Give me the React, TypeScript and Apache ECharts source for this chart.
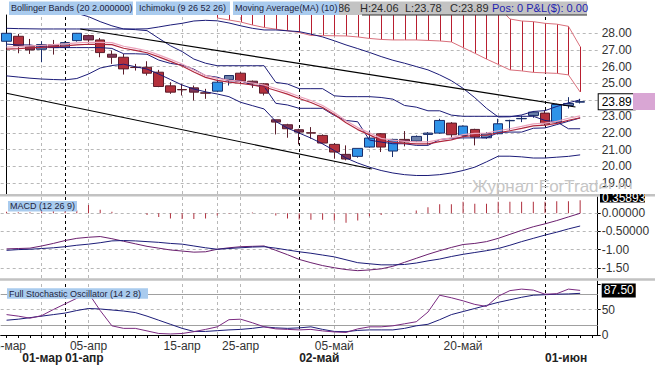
import { useEffect, useRef } from 'react';
import * as echarts from 'echarts';

const dates = ['25-мар','28-мар','29-мар','30-мар','31-мар','01-апр','04-апр','05-апр','06-апр','07-апр','08-апр','11-апр','12-апр','13-апр','14-апр','15-апр','18-апр','19-апр','20-апр','21-апр','25-апр','26-апр','27-апр','28-апр','29-апр','02-май','03-май','04-май','05-май','06-май','09-май','10-май','11-май','12-май','13-май','16-май','17-май','18-май','19-май','20-май','23-май','24-май','25-май','26-май','27-май','31-май','01-июн','02-июн','03-июн','06-июн','07-июн'];

const opens = [27.52,27.82,27.22,27.04,27.32,27.16,27.56,27.86,27.60,26.74,26.56,25.96,25.96,25.66,24.84,24.62,24.72,24.42,24.52,25.22,25.60,25.12,24.96,22.80,22.50,22.20,22.02,21.86,21.32,20.72,20.60,21.16,21.96,20.92,21.62,21.52,21.92,22.00,22.60,21.86,22.22,21.72,21.96,22.74,22.86,23.06,23.20,22.66,23.66,23.86];
const closes = [28.00,27.26,27.00,27.32,27.14,27.44,28.00,27.60,26.84,26.56,25.86,25.94,25.60,24.80,24.46,24.60,24.46,24.40,25.06,25.46,25.12,24.96,24.40,22.66,22.26,22.06,22.00,21.40,20.86,20.44,21.08,21.70,21.16,21.62,21.46,21.80,22.00,22.76,21.90,22.42,21.76,21.96,22.56,22.76,22.88,23.26,22.56,23.72,23.78,23.89];
const highs = [28.02,27.96,27.66,27.52,27.60,27.50,28.02,27.92,27.72,26.96,26.76,26.16,26.32,25.80,25.06,24.96,24.86,24.66,25.20,25.46,25.66,25.16,25.00,22.80,22.56,22.26,22.36,21.92,21.40,21.26,21.08,22.16,22.00,21.66,22.12,21.86,22.06,22.86,22.66,22.46,22.26,22.06,22.86,22.80,23.06,23.32,23.36,23.76,24.16,24.06];
const lows = [27.16,26.80,26.76,26.26,26.72,27.10,27.50,27.40,26.56,26.16,25.52,25.76,25.46,24.76,24.36,24.26,23.96,24.06,24.46,24.86,24.96,24.72,24.26,21.92,21.72,21.32,21.66,21.36,20.46,20.36,20.52,21.12,20.86,20.56,21.20,21.46,21.30,21.96,21.72,21.80,21.26,21.66,21.92,22.16,22.66,22.92,22.46,22.56,23.48,23.78];

const bbUpper = [28.30,28.28,28.27,28.26,28.26,28.26,28.26,28.26,28.26,28.26,28.26,28.26,28.27,28.38,28.50,28.60,28.74,28.78,28.75,28.62,28.45,28.30,28.20,28.20,28.15,28.10,27.95,27.78,27.55,27.30,27.08,26.85,26.60,26.38,26.20,26.00,25.80,25.50,25.15,24.69,24.13,23.49,22.97,22.98,23.09,23.30,23.35,23.60,23.82,24.00];
const bbLower = [25.44,25.37,25.30,25.25,25.22,25.20,25.28,25.55,25.91,26.06,26.14,25.99,25.85,25.55,25.22,24.89,24.65,24.48,24.35,24.19,23.85,23.65,23.45,22.70,22.30,22.00,21.70,21.35,20.95,20.50,20.20,19.95,19.75,19.60,19.50,19.45,19.45,19.50,19.60,19.75,19.95,20.27,20.61,20.61,20.57,20.50,20.50,20.55,20.60,20.69];
const tenkan = [27.35,27.30,27.30,27.20,27.14,27.14,27.14,27.14,27.14,27.09,26.77,26.77,26.74,26.39,26.19,26.09,25.84,25.46,25.36,25.14,25.14,24.88,24.81,23.79,23.69,23.49,23.49,23.49,23.06,22.76,22.68,21.58,21.46,21.36,21.36,21.26,21.26,21.61,21.69,21.71,21.71,21.71,22.03,22.06,22.06,22.29,22.31,22.51,22.71,22.91];
const kijun = [29.60,29.50,29.40,29.35,29.30,29.25,29.20,29.00,28.70,28.45,28.26,28.22,28.16,27.70,27.25,26.90,26.45,26.20,26.05,26.05,26.05,26.05,26.05,25.05,24.95,24.67,24.67,24.67,24.24,24.19,24.19,24.19,24.14,24.04,23.66,23.56,23.34,23.34,23.08,23.01,23.01,23.01,23.01,23.01,23.01,23.01,22.76,22.68,22.26,22.26];
const ma10 = [27.05,27.08,27.12,27.15,27.20,27.24,27.30,27.34,27.33,27.32,27.10,26.97,26.83,26.58,26.31,26.03,25.67,25.35,25.17,25.06,24.99,24.89,24.77,24.56,24.34,24.08,23.84,23.54,23.12,22.62,22.21,21.89,21.56,21.46,21.38,21.35,21.35,21.49,21.59,21.79,21.86,21.88,22.02,22.14,22.28,22.43,22.48,22.58,22.77,22.91];
const cloudUpper = [null,null,null,null,null,null,null,null,null,null,null,null,null,null,null,null,null,null,29.6,29.6,29.6,29.6,29.6,29.6,29.6,29.6,29.6,29.6,29.6,29.6,29.6,29.6,29.6,29.6,29.6,29.6,29.6,29.6,29.6,29.6,29.6,29.6,29.6,28.86,28.74,28.70,28.60,28.55,28.42,27.20];
const cloudLower = [null,null,null,null,null,null,null,null,null,null,null,null,null,null,null,null,null,null,28.92,28.80,28.68,28.50,28.35,28.25,28.15,28.05,27.87,27.86,27.85,27.84,27.78,27.69,27.63,27.60,27.60,27.60,27.57,27.54,27.48,27.14,26.80,26.45,26.13,25.80,25.74,25.65,25.62,25.59,25.50,24.47];
const trendUpper = [[6.3, 28.26], [48.6, 23.57]];
const trendLower = [[0.0, 24.39], [31.2, 19.84]];

const macdLine = [-0.98,-0.97,-0.96,-0.90,-0.83,-0.75,-0.69,-0.66,-0.64,-0.70,-0.77,-0.84,-0.91,-0.96,-1.01,-1.04,-1.07,-1.06,-0.99,-0.95,-0.92,-0.91,-0.90,-1.02,-1.14,-1.27,-1.36,-1.44,-1.50,-1.55,-1.58,-1.56,-1.53,-1.46,-1.35,-1.24,-1.13,-1.03,-0.94,-0.86,-0.83,-0.78,-0.69,-0.58,-0.47,-0.37,-0.29,-0.20,-0.10,0.00];
const signalLine = [-1.02,-1.00,-0.99,-0.97,-0.95,-0.92,-0.88,-0.85,-0.81,-0.76,-0.75,-0.76,-0.78,-0.80,-0.83,-0.85,-0.90,-0.95,-0.99,-0.97,-0.95,-0.93,-0.92,-0.96,-1.01,-1.06,-1.10,-1.15,-1.20,-1.28,-1.36,-1.39,-1.42,-1.42,-1.41,-1.37,-1.31,-1.26,-1.19,-1.13,-1.08,-1.03,-0.97,-0.88,-0.78,-0.69,-0.60,-0.52,-0.43,-0.35];
const macdHist = [0.04,0.03,0.03,0.06,0.10,0.15,0.08,0.23,0.10,0.04,0.00,0.00,-0.05,-0.10,-0.14,-0.16,-0.16,-0.14,-0.06,-0.01,0.00,0.02,0.00,-0.06,-0.14,-0.17,-0.18,-0.18,-0.20,-0.26,-0.20,-0.08,-0.05,-0.01,0.01,0.08,0.17,0.25,0.25,0.32,0.26,0.26,0.32,0.32,0.32,0.32,0.32,0.33,0.33,0.359];

const stochK = [40,37,33,38,50,61,72,82,48,18,13,13,8,3,2,3,6.5,11,16,30,31,24,16,12,11,10,11,8,6,5,12,16,16,18,22,26,45,78,73,67,60,56,76,87,90,88,80,81,90,87.5];
const stochD = [29,31,34,37,40,43,48,52,51,49,47,44,37,29,21,13,7,7,8.5,10,11,13,16,14,13,14,16,11,7,6.5,9,10,10,10,13,18,21,30,40,46,52,58,64,69,74,78,79,80,80.5,81.7];

const topLabelIdx = [0, 7, 15, 20, 28, 39];
const monthLabelIdx = [1, 5, 25, 46];
const monthLabels = ['01-мар', '01-апр', '02-май', '01-июн'];
const greyGridIdx = [3, 7, 15, 18, 20, 28, 31, 39, 42];
const monthLineIdx = [5, 25, 46];
const mainLevels = [19, 20, 21, 22, 23, 24, 25, 26, 27, 28];
const mainLabelLevels = [19, 20, 21, 22, 23, 25, 26, 27, 28];
const macdLevels = [0, -0.5, -1, -1.5];
const macdLevelLabels = ['0.00000', '-0.50000', '-1.00', '-1.50'];
const stochLabelLevels = [0, 50];

const lastClose = 23.89;
const macdLast = '0.35893';
const stochLast = 87.5;

const FONT = '"Liberation Sans", Arial, Helvetica, sans-serif';
const CLEAR = 'rgba(0,0,0,0)';

export default function App() {
  const ref = useRef<HTMLDivElement>(null);
  useEffect(() => {
    const el = ref.current;
    if (!el) return;
    const chart = echarts.init(el, undefined, { renderer: 'svg' });

    const candleData = opens.map((o, i) => {
      const c = closes[i];
      const up = c >= o;
      const small = Math.abs(c - o) < 0.3;
      const fill = up ? (small ? '#6b80aa' : '#2f93e8') : (small ? '#7e3558' : '#b3303c');
      const border = up ? '#1b2f6b' : '#5b1d2b';
      return {
        value: [o, c, lows[i], highs[i]],
        itemStyle: { color: fill, color0: fill, borderColor: border, borderColor0: border, borderWidth: 1 },
      };
    });

    const hatchData: number[][] = [];
    cloudLower.forEach((v, i) => {
      if (v != null && cloudUpper[i] != null) hatchData.push([i, cloudUpper[i] as number, v]);
    });

    const greyDash = { color: '#b8b8b8', type: [3, 3], width: 1 };
    const blackDash = { color: '#000', type: [3, 3], width: 1 };
    const vLines = [
      ...greyGridIdx.map((i) => ({ xAxis: dates[i], lineStyle: greyDash })),
      ...monthLineIdx.map((i) => ({ xAxis: dates[i], lineStyle: blackDash })),
    ];
    const gridMark = (levels: any[]) => ({
      silent: true,
      symbol: ['none', 'none'],
      label: { show: false },
      z: 1,
      animation: false,
      data: [...levels, ...vLines],
    });

    const navy = '#1c1c78';
    const lineBase = { type: 'line', showSymbol: false, symbol: 'none', silent: true, z: 4 };
    const gridBase = { left: 0.7, right: 57.3, outerBoundsMode: 'none', containLabel: false };

    const option: any = {
      animation: false,
      textStyle: { fontFamily: FONT },
      grid: [
        { ...gridBase, top: 15, height: 179 },
        { ...gridBase, top: 197, height: 81 },
        { ...gridBase, top: 281, height: 54 },
      ],
      xAxis: [
        { type: 'category', gridIndex: 0, data: dates, show: false },
        { type: 'category', gridIndex: 1, data: dates, show: false },
        {
          type: 'category', gridIndex: 2, data: dates, position: 'bottom',
          axisLine: { show: true, onZero: false, lineStyle: { color: '#000', width: 1 } },
          axisTick: { show: true, interval: 0, alignWithLabel: true, length: 3, lineStyle: { color: '#000' } },
          axisLabel: {
            interval: 0, margin: 5, fontSize: 12, color: '#333', fontFamily: FONT, alignMinLabel: 'center',
            formatter: (v: string, i: number) => (topLabelIdx.includes(i) ? v : ''),
          },
          splitLine: { show: false },
        },
        {
          type: 'category', gridIndex: 2, data: dates, position: 'bottom', offset: 12,
          axisLine: { show: false }, axisTick: { show: false }, splitLine: { show: false },
          axisLabel: {
            interval: 0, margin: 5, fontSize: 12, fontWeight: 'bold', color: '#222', align: 'left', fontFamily: FONT,
            formatter: (_v: string, i: number) => {
              const k = monthLabelIdx.indexOf(i);
              if (k < 0) return '';
              return k === 0 ? '{p|' + monthLabels[k] + '}' : monthLabels[k];
            },
            rich: { p: { padding: [0, 0, 0, 4], fontSize: 12, fontWeight: 'bold', color: '#222', fontFamily: FONT } },
          },
        },
        { type: 'value', gridIndex: 0, min: -0.5, max: 50.5, show: false },
      ],
      yAxis: [
        {
          type: 'value', gridIndex: 0, position: 'right', min: 18.337, max: 29.1,
          axisLine: { show: true, lineStyle: { color: '#000' } },
          axisTick: { show: true, length: 3, customValues: mainLevels, lineStyle: { color: '#000' } },
          axisLabel: { customValues: mainLabelLevels, formatter: (v: number) => v.toFixed(2), margin: 4, fontSize: 12, color: '#333', fontFamily: FONT },
          splitLine: { show: false },
        },
        {
          type: 'value', gridIndex: 1, position: 'right', min: -1.782, max: 0.449,
          axisLine: { show: true, lineStyle: { color: '#000' } },
          axisTick: { show: true, length: 3, customValues: macdLevels, lineStyle: { color: '#000' } },
          axisLabel: {
            customValues: macdLevels, margin: 4, fontSize: 12, color: '#333', fontFamily: FONT,
            formatter: (v: number) => {
              const k = macdLevels.findIndex((m) => Math.abs(m - v) < 1e-6);
              return k >= 0 ? macdLevelLabels[k] : '';
            },
          },
          splitLine: { show: false },
        },
        {
          type: 'value', gridIndex: 2, position: 'right', min: 0, max: 105.9,
          axisLine: { show: true, lineStyle: { color: '#000' } },
          axisTick: { show: true, length: 3, customValues: [0, 50, 100], lineStyle: { color: '#000' } },
          axisLabel: { customValues: stochLabelLevels, formatter: (v: number) => String(Math.round(v)), margin: 4, fontSize: 12, color: '#333', fontFamily: FONT },
          splitLine: { show: false },
        },
      ],
      series: [
        {
          type: 'candlestick', xAxisIndex: 0, yAxisIndex: 0, z: 3, barWidth: 10, silent: true,
          data: candleData,
          markLine: gridMark(mainLevels.map((v) => ({ yAxis: v, lineStyle: greyDash }))),
        },
        {
          type: 'custom', xAxisIndex: 0, yAxisIndex: 0, z: 2, silent: true,
          data: hatchData,
          encode: { x: 0, y: [1, 2] },
          renderItem: (params: any, api: any) => {
            const t = api.coord([api.value(0), api.value(1)]);
            const b = api.coord([api.value(0), api.value(2)]);
            const top = Math.max(t[1], params.coordSys.y);
            const x = Math.round(t[0]) + 0.5;
            return { type: 'line', shape: { x1: x, y1: top, x2: x, y2: b[1] }, style: { stroke: '#b81f30', lineWidth: 1 } };
          },
        },
        { ...lineBase, name: 'cloudLower', xAxisIndex: 0, yAxisIndex: 0, data: cloudLower, lineStyle: { color: '#d9707c', width: 1 } },
        { ...lineBase, name: 'cloudUpper', xAxisIndex: 0, yAxisIndex: 0, data: cloudUpper, lineStyle: { color: '#d9707c', width: 1 } },
        { ...lineBase, name: 'bbUpper', xAxisIndex: 0, yAxisIndex: 0, data: bbUpper, lineStyle: { color: navy, width: 1 } },
        { ...lineBase, name: 'bbLower', xAxisIndex: 0, yAxisIndex: 0, data: bbLower, lineStyle: { color: navy, width: 1 } },
        { ...lineBase, name: 'kijun', xAxisIndex: 0, yAxisIndex: 0, data: kijun, lineStyle: { color: navy, width: 1 } },
        { ...lineBase, name: 'tenkan', xAxisIndex: 0, yAxisIndex: 0, data: tenkan, lineStyle: { color: navy, width: 1 } },
        {
          ...lineBase, name: 'ma10', xAxisIndex: 0, yAxisIndex: 0, data: ma10, z: 5,
          lineStyle: { color: '#b0283e', width: 1.2, shadowColor: '#eaa2bb', shadowBlur: 0, shadowOffsetY: -2 },
          markLine: {
            silent: true, symbol: ['none', 'none'], z: 10, animation: false,
            data: [{
              yAxis: lastClose, lineStyle: { color: CLEAR, width: 1 },
              label: { show: true, position: 'end', formatter: lastClose.toFixed(2), distance: 1, color: '#000', backgroundColor: '#fff', borderColor: '#000', borderWidth: 1, padding: [2, 3, 1, 3], fontSize: 12, fontFamily: FONT, opacity: 1 },
            }],
          },
        },
        { ...lineBase, name: 'trendUpper', xAxisIndex: 4, yAxisIndex: 0, data: trendUpper, lineStyle: { color: '#000', width: 1.1 } },
        { ...lineBase, name: 'trendLower', xAxisIndex: 4, yAxisIndex: 0, data: trendLower, lineStyle: { color: '#000', width: 1.1 } },
        {
          type: 'bar', xAxisIndex: 1, yAxisIndex: 1, data: macdHist, barWidth: 1, silent: true, z: 3,
          itemStyle: { color: '#b0303e' },
          markLine: gridMark(macdLevels.map((v) => ({ yAxis: v, lineStyle: greyDash }))),
        },
        { ...lineBase, name: 'macd', xAxisIndex: 1, yAxisIndex: 1, data: macdLine, lineStyle: { color: '#6a1f6e', width: 1 } },
        { ...lineBase, name: 'signal', xAxisIndex: 1, yAxisIndex: 1, data: signalLine, lineStyle: { color: navy, width: 1 } },
        {
          ...lineBase, name: 'stochD', xAxisIndex: 2, yAxisIndex: 2, data: stochD, lineStyle: { color: navy, width: 1 },
          markLine: gridMark([
            { yAxis: 80, lineStyle: { color: '#a0a0a0', type: 'solid', width: 1 } },
            { yAxis: 20, lineStyle: { color: '#a0a0a0', type: 'solid', width: 1 } },
            { yAxis: 50, lineStyle: greyDash },
          ]),
        },
        {
          ...lineBase, name: 'stochK', xAxisIndex: 2, yAxisIndex: 2, data: stochK, z: 5, lineStyle: { color: '#7a2a80', width: 1 },
          markLine: {
            silent: true, symbol: ['none', 'none'], z: 10, animation: false,
            data: [{
              yAxis: stochLast, lineStyle: { color: CLEAR, width: 1 },
              label: { show: true, position: 'end', formatter: stochLast.toFixed(2), distance: 4, color: '#fff', backgroundColor: '#000', padding: [1, 2, 1, 2], fontSize: 12, fontFamily: FONT, opacity: 1 },
            }],
          },
        },
      ],
      graphic: [
        { type: 'text', z: 50, silent: true, style: { text: 'Журнал ForTrader.ru', x: 472, y: 186, fill: '#c6c6c6', fontSize: 17, fontFamily: FONT, verticalAlign: 'middle', align: 'left' } },
        { type: 'rect', z: 100, silent: true, shape: { x: 0, y: 194, width: 655, height: 2.6 }, style: { fill: '#c2c2c2' } },
        { type: 'rect', z: 100, silent: true, shape: { x: 0, y: 278.3, width: 655, height: 2.4 }, style: { fill: '#c2c2c2' } },
        { type: 'rect', z: 100, silent: true, shape: { x: 600, y: 194, width: 45, height: 8.5 }, style: { fill: '#000' } },
        { type: 'text', z: 100, silent: true, style: { text: macdLast, x: 602, y: 197.5, fill: '#fff', fontSize: 12, fontFamily: FONT, verticalAlign: 'middle', align: 'left' } },
        { type: 'rect', z: 100, silent: true, shape: { x: 598.5, y: 189, width: 56.5, height: 5 }, style: { fill: '#fff' } },
        { type: 'rect', z: 100, silent: true, shape: { x: 633, y: 93, width: 22, height: 17 }, style: { fill: '#d9a6d4' } },
        // top status strip
        { type: 'rect', z: 100, silent: true, shape: { x: 300, y: 1.5, width: 287, height: 13.5 }, style: { fill: '#c3c3c3' } },
        { type: 'rect', z: 100, silent: true, shape: { x: 362, y: 14.5, width: 225, height: 1 }, style: { fill: '#333' } },
        { type: 'text', z: 100, silent: true, style: { text: 'O:23.86', x: 311, y: 8.3, fill: '#2b2b2b', fontSize: 11, fontFamily: FONT, verticalAlign: 'middle' } },
        { type: 'text', z: 100, silent: true, style: { text: 'H:24.06', x: 360, y: 8.3, fill: '#2b2b2b', fontSize: 11, fontFamily: FONT, verticalAlign: 'middle' } },
        { type: 'text', z: 100, silent: true, style: { text: 'L:23.78', x: 405, y: 8.3, fill: '#2b2b2b', fontSize: 11, fontFamily: FONT, verticalAlign: 'middle' } },
        { type: 'text', z: 100, silent: true, style: { text: 'C:23.89', x: 450, y: 8.3, fill: '#2b2b2b', fontSize: 11, fontFamily: FONT, verticalAlign: 'middle' } },
        { type: 'text', z: 100, silent: true, style: { text: 'Pos: 0 P&L($): 0.00', x: 492, y: 8.3, fill: '#2323b0', fontSize: 11, fontFamily: FONT, verticalAlign: 'middle' } },
        { type: 'rect', z: 100, silent: true, shape: { x: 9, y: 1.5, width: 124, height: 13.5 }, style: { fill: '#a9cbee' } },
        { type: 'text', z: 100, silent: true, style: { text: 'Bollinger Bands (20 2.000000)', x: 11, y: 8.3, fill: '#1e2440', fontSize: 9, fontFamily: FONT, verticalAlign: 'middle' } },
        { type: 'rect', z: 100, silent: true, shape: { x: 136, y: 1.5, width: 94, height: 13.5 }, style: { fill: '#a9cbee' } },
        { type: 'text', z: 100, silent: true, style: { text: 'Ichimoku (9 26 52 26)', x: 139, y: 8.3, fill: '#1e2440', fontSize: 9, fontFamily: FONT, verticalAlign: 'middle' } },
        { type: 'rect', z: 100, silent: true, shape: { x: 233, y: 1.5, width: 106, height: 13.5 }, style: { fill: '#a9cbee' } },
        { type: 'text', z: 100, silent: true, style: { text: 'Moving Average(MA) (10)', x: 235, y: 8.3, fill: '#1e2440', fontSize: 9, fontFamily: FONT, verticalAlign: 'middle' } },
        { type: 'rect', z: 100, silent: true, shape: { x: 8, y: 201, width: 69, height: 10.5 }, style: { fill: '#a9cbee' } },
        { type: 'text', z: 100, silent: true, style: { text: 'MACD (12 26 9)', x: 10, y: 206.3, fill: '#1e2440', fontSize: 9, fontFamily: FONT, verticalAlign: 'middle' } },
        { type: 'rect', z: 100, silent: true, shape: { x: 7, y: 288.3, width: 141, height: 10.5 }, style: { fill: '#a9cbee' } },
        { type: 'text', z: 100, silent: true, style: { text: 'Full Stochastic Oscillator (14 2 8)', x: 9, y: 293.6, fill: '#1e2440', fontSize: 9, fontFamily: FONT, verticalAlign: 'middle' } },
      ],
    };

    chart.setOption(option);
    return () => chart.dispose();
  }, []);
  return <div ref={ref} style={{ position: 'absolute', left: 0, top: 0, width: 655, height: 365 }} />;
}
